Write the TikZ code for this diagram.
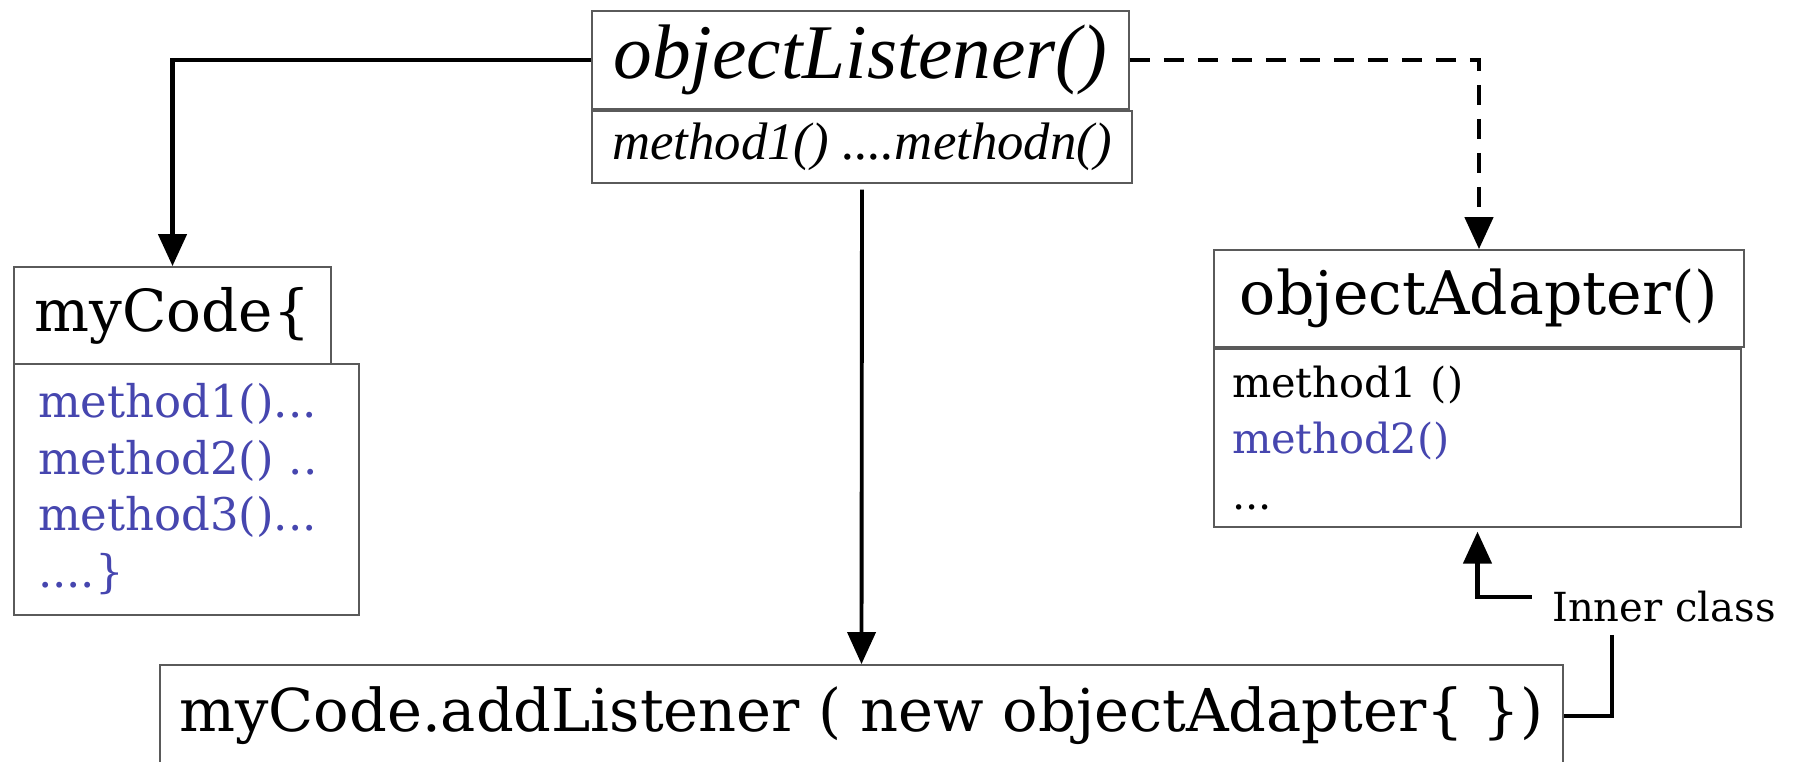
\documentclass[tikz,border=0pt]{standalone}
\usepackage{fontspec}
\setmainfont{DejaVu Serif}
\newfontfamily\timesfont{Liberation Serif}
\usepackage{xcolor}
\usepackage{tikz}
\usetikzlibrary{arrows.meta, positioning}
\definecolor{boxgray}{RGB}{90, 90, 90}
\definecolor{methodblue}{RGB}{70, 70, 175}

\begin{document}
\begin{tikzpicture}[
    header/.style={rectangle, draw=boxgray, line width=0.5pt, inner sep=0pt,
                minimum height=0.97cm, align=center, font=\fontsize{16.5}{18}\selectfont},
    body/.style={rectangle, draw=boxgray, line width=0.5pt, inner ysep=0pt, align=left},
    arrow/.style={-{Triangle[length=0.32cm, width=0.28cm]}, line width=1.3pt},
    link/.style={line width=1.3pt}
]
\useasboundingbox (0,0) rectangle (17.97,-7.62);

\node[header, minimum width=5.37cm, minimum height=0.98cm, font=\timesfont\itshape\fontsize{22}{24}\selectfont] (lhead) at (8.605,-0.60) {objectListener()};
\node[body, anchor=north west, inner sep=0pt, minimum width=5.40cm, minimum height=0.72cm, font=\timesfont\itshape\fontsize{15}{17}\selectfont] (lbody) at (lhead.south west) {method1() ....methodn()};

\node[header, minimum width=3.17cm] (mhead) at (1.725,-3.155) {myCode\{};
\node[body, anchor=north west, inner xsep=0.24cm, text width=2.97cm, minimum height=2.51cm, text=methodblue, font=\fontsize{12.8}{16.1}\selectfont] (mbody) at ([yshift=0.02cm]mhead.south west) {method1()...\\method2() ..\\method3()...\\....\}};

\node[header, minimum width=5.30cm, font=\fontsize{17.1}{18}\selectfont] (ahead) at (14.79,-2.985) {objectAdapter()};
\node[body, anchor=north west, inner xsep=0.18cm, text width=4.91cm, minimum height=1.78cm, font=\fontsize{11.8}{15.9}\selectfont] (abody) at (ahead.south west) {method1 ()\\\textcolor{methodblue}{method2()}\\...};

\node[header, minimum width=14.03cm, minimum height=1.02cm, font=\fontsize{16.8}{18}\selectfont] (call) at (8.615,-7.16) {myCode.addListener ( new objectAdapter\{ \})};
\node[inner xsep=0.2cm, font=\fontsize{11.4}{13}\selectfont] (inner) at (16.64,-6.07) {Inner class};

\draw[arrow] (lhead.west) -| (mhead.north);
\draw[arrow, dash pattern=on 0.2cm off 0.14cm] (lhead.east) -| (ahead.north);
\draw[arrow, line width=1.1pt, shorten <=0.06cm] (lbody.south) -- (call.north);
\draw[arrow] ([yshift=0.1cm]inner.west) -| ([yshift=-0.04cm]abody.south);
\draw[link] ([xshift=-0.52cm]inner.south) |- (call.east);

\end{tikzpicture}
\end{document}
